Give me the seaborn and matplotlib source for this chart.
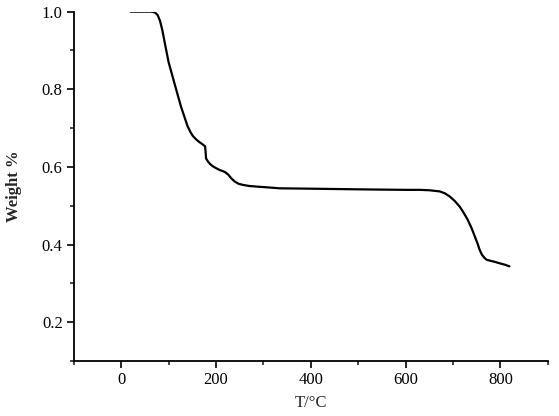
import numpy as np
import pandas as pd
import matplotlib
matplotlib.use("Agg")
import matplotlib.pyplot as plt
from matplotlib.ticker import MultipleLocator
import seaborn as sns

temperature = [20, 40, 62, 68, 72, 77, 82, 87, 93, 100, 112, 126, 140, 146, 151, 158, 165,
               172, 177, 178, 179, 183, 188, 193, 200, 208, 215, 220, 226, 232, 239, 247,
               256, 270, 290, 313, 334, 400, 524, 600, 629, 650, 672, 683, 693, 704, 714,
               722, 731, 739, 746, 752, 756, 761, 767, 771, 777, 787, 798, 810, 819]
weight = [1.0, 1.0, 1.0, 0.999, 0.997, 0.991, 0.976, 0.951, 0.913, 0.870, 0.817, 0.756,
          0.705, 0.690, 0.680, 0.671, 0.664, 0.658, 0.653, 0.640, 0.622, 0.614, 0.607,
          0.602, 0.597, 0.592, 0.589, 0.586, 0.580, 0.571, 0.563, 0.557, 0.554, 0.551,
          0.549, 0.547, 0.545, 0.544, 0.542, 0.541, 0.541, 0.540, 0.537, 0.532, 0.524,
          0.512, 0.498, 0.483, 0.464, 0.443, 0.421, 0.402, 0.387, 0.374, 0.365, 0.361,
          0.359, 0.356, 0.352, 0.348, 0.344]

df = pd.DataFrame({"T": temperature, "W": weight})

sns.set_theme(style="ticks")
plt.rcParams['font.family'] = ['Liberation Serif', 'DejaVu Serif']

fig = plt.figure(figsize=(5.59, 4.16), dpi=100)
ax = fig.add_axes([0.132, 0.132, 0.848, 0.840])
sns.lineplot(data=df, x="T", y="W", ax=ax, color="black", linewidth=1.6)

ax.set_xlim(-100, 900)
ax.set_ylim(0.1, 1.0)
ax.xaxis.set_minor_locator(MultipleLocator(100))
ax.yaxis.set_minor_locator(MultipleLocator(0.1))
ax.set_xticks([0, 200, 400, 600, 800])
ax.set_yticks([0.2, 0.4, 0.6, 0.8, 1.0])
ax.set_yticklabels(["0.2", "0.4", "0.6", "0.8", "1.0"])

ax.tick_params(axis="both", which="major", direction="out", length=5, width=1.2,
               labelsize=12, colors="black", pad=3)
ax.tick_params(axis="both", which="minor", direction="out", length=3, width=1.2)
for s in ["top", "right"]:
    ax.spines[s].set_visible(False)
for s in ["left", "bottom"]:
    ax.spines[s].set_linewidth(1.3)
    ax.spines[s].set_color("black")

ax.set_xlabel("T/°C", fontsize=12, labelpad=5)
ax.set_ylabel("Weight %", fontsize=12, fontweight="bold", labelpad=14)

fig.savefig("out.png", dpi=100)
